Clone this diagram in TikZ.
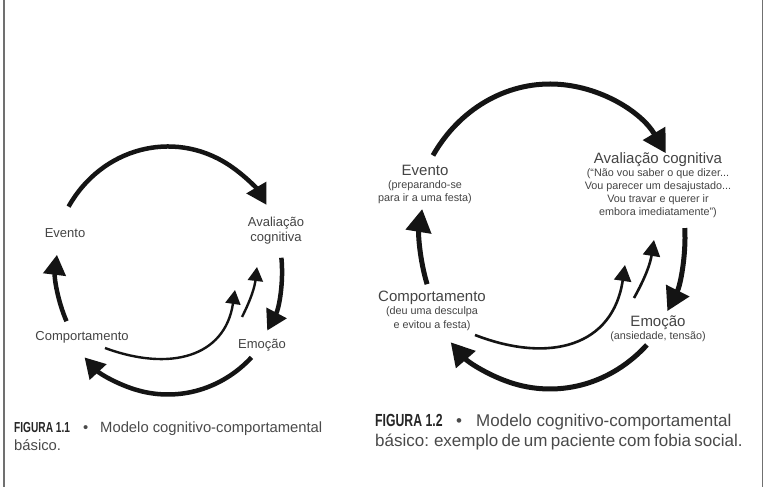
\documentclass[tikz,border=0pt]{standalone}
\usepackage{fontspec}
\setmainfont{Liberation Sans}
\newfontfamily\figfont[FakeStretch=0.7]{Liberation Sans}
\usetikzlibrary{arrows.meta}
\definecolor{txt}{HTML}{444444}
\definecolor{capc}{HTML}{4A4A4A}
\definecolor{arr}{HTML}{141414}
\definecolor{frame}{HTML}{707070}
\begin{document}
\begin{tikzpicture}[x=1pt,y=1pt,
 bigL/.style={draw=arr,line width=4.5pt,-{Triangle[length=20pt,width=22pt]}},
 bigR/.style={draw=arr,line width=5pt,-{Triangle[length=23pt,width=25pt]}},
 thinL/.style={draw=arr,line width=2.4pt,-{Triangle[length=14pt,width=15pt]}},
 thinR/.style={draw=arr,line width=2.6pt,-{Triangle[length=16pt,width=17pt]}},
 lblL/.style={text=txt,inner sep=0pt,font=\fontsize{13}{15}\selectfont,align=center},
 lblR/.style={text=txt,inner sep=0pt,font=\fontsize{15}{17}\selectfont,align=center},
 subR/.style={text=txt,inner sep=0pt,font=\fontsize{10.8}{13}\selectfont,align=center},
 capL/.style={text=capc,inner sep=0pt,anchor=base west,font=\fontsize{14.8}{18}\selectfont},
 capR/.style={text=capc,inner sep=0pt,anchor=base west,font=\fontsize{17}{20}\selectfont},
 figL/.style={text=black!85,inner sep=0pt,anchor=base west,font=\figfont\bfseries\fontsize{14.5}{16}\selectfont},
 figR/.style={text=black!85,inner sep=0pt,anchor=base west,font=\figfont\bfseries\fontsize{17.5}{19}\selectfont},
 framel/.style={draw=frame,line width=1.5pt}]
\fill[white] (0,0) rectangle (768,487);
\useasboundingbox (0,0) rectangle (768,487);
\coordinate (fa) at (4,0); \coordinate (fb) at (4,487);
\coordinate (fc) at (762.5,0); \coordinate (fd) at (762.5,487);
\draw[framel] (fa) -- (fb);
\draw[framel] (fc) -- (fd);

% ---------- Figure 1.1 ----------
\node[lblL] (ev1) at (65,254) {Evento};
\node[lblL] (av1) at (276,256.5) {Avaliação\\cognitiva};
\node[lblL] (em1) at (262,142) {Emoção};
\node[lblL] (co1) at (82,150) {Comportamento};

\coordinate (Lc) at (168,216.5);
\path (Lc) ++(149:116pt and 124pt) coordinate (Lts);
\draw[bigL] (Lts) arc[start angle=149,end angle=32,x radius=116pt,y radius=124pt];
\path (Lc) ++(6:114pt and 122pt) coordinate (Lrs);
\draw[bigL] (Lrs) arc[start angle=6,end angle=-29.5,x radius=114pt,y radius=122pt];
\path (Lc) ++(-44.5:117pt and 124pt) coordinate (Lbs);
\draw[bigL] (Lbs) arc[start angle=-44.5,end angle=-135.5,x radius=117pt,y radius=124pt];
\path (Lc) ++(205:112pt and 120pt) coordinate (Lls);
\draw[bigL] (Lls) arc[start angle=205,end angle=172.5,x radius=112pt,y radius=120pt];

\coordinate (Ltcs) at (105,139); \coordinate (Ltce) at (235,197);
\draw[thinL] (Ltcs) .. controls (170,115) and (225,130) .. (Ltce);
\coordinate (Lsas) at (242,170); \coordinate (Lsae) at (257,220);
\draw[thinL] (Lsas) to[bend right=10] (Lsae);

% ---------- Figure 1.2 ----------
\node[lblR] (ev2) at (425,317) {Evento};
\node[subR,font=\fontsize{10.8}{12.5}\selectfont] (ev2s) at (425,295) {(preparando-se\\para ir a uma festa)};
\node[lblR] (av2) at (658,327) {Avaliação cognitiva};
\node[subR] (av2s) at (658,293.5) {(“Não vou saber o que dizer...\\Vou parecer um desajustado...\\Vou travar e querer ir\\embora imediatamente”)};
\node[lblR] (em2) at (658,164) {Emoção};
\node[subR] (em2s) at (658,150) {(ansiedade, tensão)};
\node[lblR] (co2) at (432,189) {Comportamento};
\node[subR,font=\fontsize{10.8}{14}\selectfont] (co2s) at (432,168) {(deu uma desculpa\\e evitou a festa)};

\coordinate (Rc) at (550,251);
\path (Rc) ++(148:138pt and 152pt) coordinate (Rts);
\draw[bigR] (Rts) arc[start angle=148,end angle=33,x radius=138pt,y radius=152pt];
\path (Rc) ++(3:135pt and 152pt) coordinate (Rrs);
\draw[bigR] (Rrs) arc[start angle=3,end angle=-29.6,x radius=135pt,y radius=152pt];
\path (Rc) ++(-45.4:138pt and 153pt) coordinate (Rbs);
\draw[bigR] (Rbs) arc[start angle=-45.4,end angle=-136,x radius=138pt,y radius=153pt];
\path (Rc) ++(199:130pt and 148pt) coordinate (Rls);
\draw[bigR] (Rls) arc[start angle=199,end angle=169.5,x radius=130pt,y radius=148pt];

\coordinate (Rtcs) at (475,152); \coordinate (Rtce) at (625,222);
\draw[thinR] (Rtcs) .. controls (550,123) and (613,141) .. (Rtce);
\coordinate (Rsas) at (634,189); \coordinate (Rsae) at (654,247);
\draw[thinR] (Rsas) to[bend right=10] (Rsae);

% ---------- Captions ----------
\node[figL] (f1a) at (14,54) {FIGURA 1.1};
\node[capL] (f1b) at (83,54) {•};
\node[capL] (f1c) at (100,54) {Modelo cognitivo-comportamental};
\node[capL] (f1d) at (14,36) {básico.};

\node[figR] (f2a) at (375,60) {FIGURA 1.2};
\node[capR] (f2b) at (456,60) {•};
\node[capR] (f2c) at (476,60) {Modelo cognitivo-comportamental};
\node[capR] (f2d) at (375,40) {\spaceskip=0.2em plus 0.05em básico: exemplo de um paciente com fobia social.};
\end{tikzpicture}
\end{document}
